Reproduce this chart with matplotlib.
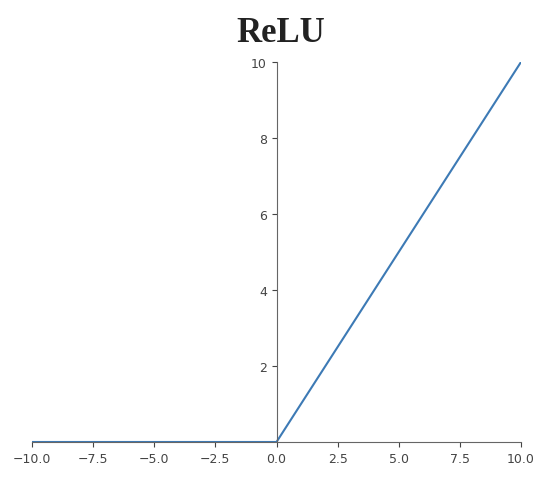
import numpy as np
import matplotlib
matplotlib.use("Agg")
import matplotlib.pyplot as plt

x_start, x_end = -10.0, 10.0
x = np.linspace(x_start, x_end, 201)
y = np.maximum(0, x)
xticks = [-10.0, -7.5, -5.0, -2.5, 0.0, 2.5, 5.0, 7.5, 10.0]
yticks = [2, 4, 6, 8, 10]

fig = plt.figure(figsize=(5.5, 4.89), dpi=100)
ax = fig.add_axes([32/550, 46/489, (521-32)/550, (443-63)/489])
ax.plot(x, y, color="#3d7ab5", linewidth=1.5)
ax.set_xlim(-10, 10)
ax.set_ylim(0, 10)
ax.spines['left'].set_position(('data', 0))
ax.spines['bottom'].set_position(('data', 0))
ax.spines['right'].set_visible(False)
ax.spines['top'].set_visible(False)
for s in ['left', 'bottom']:
    ax.spines[s].set_color('#666666')
ax.set_xticks(xticks)
ax.set_xticklabels([f"{t:.1f}".replace('-', '\u2212') for t in xticks])
ax.set_yticks(yticks)
ax.tick_params(labelsize=9, colors='#444444', length=3.5)
fig.text(281/550, 1 - 34/489, "ReLU", family="Liberation Serif", weight="bold",
         fontsize=25, ha="center", va="center", color="#222222")
fig.savefig("out.png", dpi=100)
